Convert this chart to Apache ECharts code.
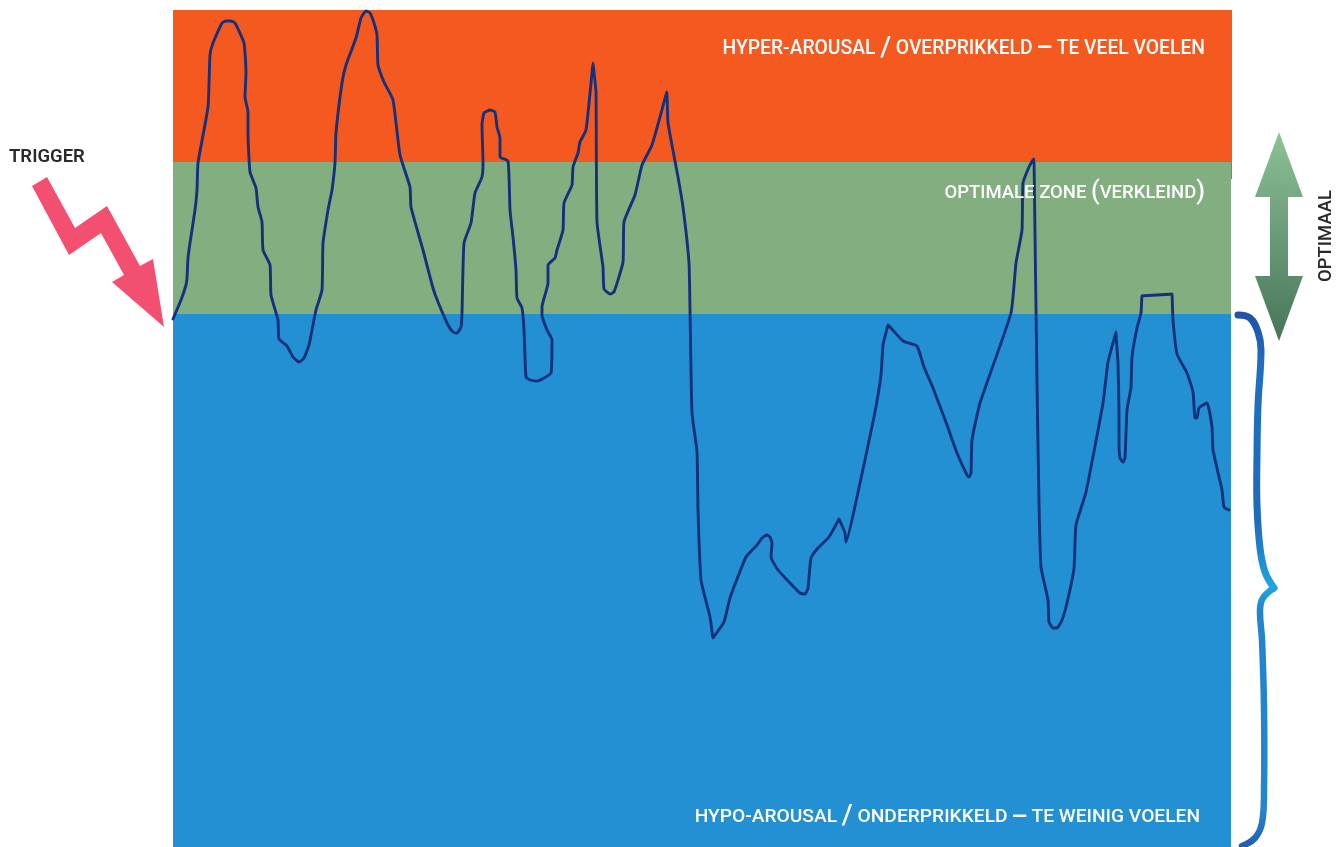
<!DOCTYPE html>
<html><head><meta charset="utf-8">
<style>html,body{margin:0;padding:0;background:#fff}#c{width:1338px;height:847px}</style>
<script src="https://cdn.jsdelivr.net/npm/echarts@6/dist/echarts.min.js"></script>
</head><body><div id="c"></div>
<script>
// Time position along the recording (arbitrary units)
const timeValues = [0,8,13,14,15,17,22,24,25,35,37,40,49,53,58,62,71,73,72,75,75,77,83,85,89,90,97,98,105,106,114,120,126,131,136,143,149,150,155,157,159,162,163,169,173,183,188,193,197,201,204,205,211,220,227,237,238,250,260,265,275,280,284,288,289,291,298,302,309,310,309,311,317,322,324,327,327,335,337,340,343,344,349,351,353,357,364,371,378,379,374,369,369,375,375,382,384,390,391,399,400,405,407,413,419,420,421,423,424,430,431,437,441,450,451,462,469,479,493,494,494.3,495,505,510,516,517,519,524,525,528,537,539.5,540,541,551,557,573,584,589,594,597,599,598,605,617,627,632,635,638,645,656,665,666,667,672,673,684,701,708,710,714,715,717,730,744,751,760,774,784,794,796,798,799,807,838,843,849,850,856,860,861,861.2,864,866,868,875,876,880,884,889,894,901,903,913,930,935,942.5,943,943.3,945,946,946,947,950,952,954,958,959,964,968,968.7,969,971,997,999,999.2,1000,1004,1014,1020,1022,1024,1026,1034,1039,1040,1049,1051,1056];
// Arousal level (arbitrary units)
const arousalValues = [528,547,562,569,589,604,637,657,684,740,792,804,824,826,826,824,804,774,750,735,714,675,659,640,625,597,582,552,527,508,501,490,485,489,502,537,557,604,637,647,657,684,714,764,782,809,829,836,834,824,812,782,765,747,692,660,640,597,559,545,522,515,514,520,534,604,624,654,670,684,722,734,737,735,720,709,690,686,637,610,577,549,539,517,470,467,466,469,474,507,517,532,540,564,582,589,597,617,644,662,680,694,705,717,774,784,775,755,625,580,558,553,555,585,625,652,682,702,752,755,745,724,670,640,584,537,434,395,337,267,230,212,209,210.5,225,249,290,302,309,312,310,304,290,277,264,254,253,259,289,299,310,326,328,326,314,305,350,430,472,502,518,522,520,506,501,480,459,422,394,372,370,374,407,444,534,584,617,664,680,687,688,675,464,344,280,247,225,219,219,227,244,279,322,355,444,485,513,515,508,484,434,404,389,385,389,437,460,490,519,534,547,551,551.2,552.8,553,549,527,493,474,455,429,429,439,444,420,397,357,340,337];
// Zone boundaries on the arousal scale
const zoneBounds = [0,533,685,837];
const zoneNames = ['Hypo','Optimaal','Hyper'];
const zoneColors = ['#2290D2','#82AE80','#F45A20'];
const labelHyper = '{t|HYPER-AROUSAL }{s|/}{t| OVERPRIKKELD }{d|—}{t| TE VEEL VOELEN}';
const labelOpt = '{t|OPTIMALE ZONE }{s|(}{t|VERKLEIND}{s|)}';
const labelHypo = '{t|HYPO-AROUSAL }{s|/}{t| ONDERPRIKKELD }{d|—}{t| TE WEINIG VOELEN}';
const labelTrigger = 'TRIGGER';
const labelOptimaal = 'OPTIMAAL';

const FONT = '"Roboto","Noto Sans",sans-serif';
const richFor = (size,big)=>({
  t:{fontFamily:FONT,fontSize:size,fontWeight:500,fill:'#fff',color:'#fff'},
  s:{fontFamily:FONT,fontSize:big,fontWeight:500,fill:'#fff',color:'#fff'},
  d:{fontFamily:FONT,fontSize:size,fontWeight:900,fill:'#fff',color:'#fff'}
});
const zoneText = (text,right,y,size,big)=>({type:'text',z:20,x:right,y:y,style:{text:text,rich:richFor(size,big),align:'right',verticalAlign:'middle',fill:'#fff'}});

const chart = echarts.init(document.getElementById('c'),null,{renderer:'canvas'});
chart.setOption({
  animation:false,
  backgroundColor:'#fff',
  grid:{left:173,top:10,width:1058,height:837,containLabel:false},
  xAxis:{type:'value',min:0,max:1058,show:false},
  yAxis:{type:'value',min:0,max:837,show:false},
  series:[{
    type:'line',
    data:timeValues.map((t,i)=>[t,arousalValues[i]]),
    showSymbol:false,
    smooth:0.15,
    clip:false,
    silent:true,
    z:5,
    lineStyle:{color:'#16317C',width:2.9,join:'round',cap:'round'},
    markArea:{
      silent:true,
      label:{show:false},
      data:zoneNames.map((n,i)=>[
        {name:n,yAxis:zoneBounds[i],xAxis:0,itemStyle:{color:zoneColors[i],opacity:1}},
        {yAxis:zoneBounds[i+1],xAxis:1058}
      ])
    }
  }],
  graphic:{elements:[
    {type:'rect',z:1,shape:{x:1231,y:10,width:1,height:169},style:{fill:'#F45A20'}},
    zoneText(labelHyper,1205,49,19.3,28),
    zoneText(labelOpt,1205,193,18.5,25),
    zoneText(labelHypo,1200,817,19.2,28),
    {type:'text',z:20,x:9,y:157,style:{text:labelTrigger,fontFamily:FONT,fontSize:18.5,fontWeight:600,fill:'#2a2a2a',verticalAlign:'middle'}},
    {type:'text',z:20,x:1326,y:236,rotation:Math.PI/2,style:{text:labelOptimaal,fontFamily:FONT,fontSize:18.5,fontWeight:500,fill:'#2a2a2a',align:'center',verticalAlign:'middle'}},
    {type:'polygon',z:20,shape:{points:[[32,186],[47,177],[75,228],[107,206],[140,266],[153,259],[164,327],[112,282],[124,275],[101,233],[69,255]]},style:{fill:'#F34F70'}},
    {type:'polygon',z:20,shape:{points:[[1279,132],[1303,197],[1288,197],[1288,276],[1303,276],[1279,341],[1255,276],[1270,276],[1270,197],[1255,197]]},
      style:{fill:new echarts.graphic.LinearGradient(0.65,0,0.35,1,[{offset:0,color:'#8EC296'},{offset:0.5,color:'#6A9A78'},{offset:1,color:'#467659'}])}},
    {type:'polyline',z:20,shape:{smooth:0.4,points:[[1238,315],[1250,318],[1258,332],[1261,350],[1258,405],[1257,455],[1257,505],[1260,548],[1265,572],[1274,588]]},
      style:{fill:'none',lineWidth:7,lineCap:'round',stroke:new echarts.graphic.LinearGradient(0,0,0,1,[{offset:0,color:'#2050A8'},{offset:0.2,color:'#1F6FC0'},{offset:0.75,color:'#1E6BBB'},{offset:1,color:'#1FA8E0'}])}},
    {type:'polyline',z:20,shape:{smooth:0.4,points:[[1274,588],[1263,598],[1260,610],[1262,640],[1264,707],[1264,790],[1262,823],[1255,838],[1242,846]]},
      style:{fill:'none',lineWidth:6.5,lineCap:'round',stroke:new echarts.graphic.LinearGradient(0,0,0,1,[{offset:0,color:'#1FA8E0'},{offset:0.1,color:'#2383CC'},{offset:0.85,color:'#2586CC'},{offset:1,color:'#1F5DB0'}])}}
  ]}
});
</script></body></html>
